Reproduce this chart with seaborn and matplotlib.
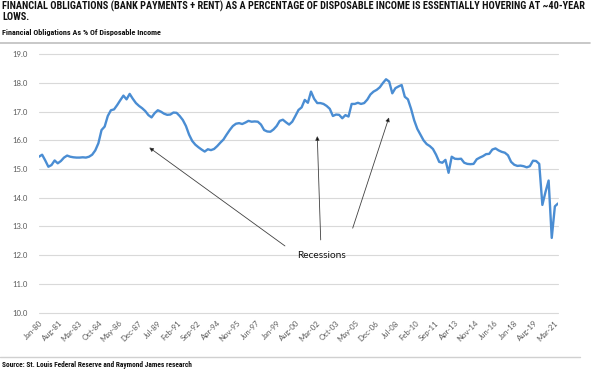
import numpy as np
import pandas as pd
import matplotlib
matplotlib.use("Agg")
import matplotlib.pyplot as plt
from matplotlib import font_manager
from matplotlib.font_manager import FontProperties
import seaborn as sns

# ---------------- data ----------------
title_lines = [
    "FINANCIAL OBLIGATIONS (BANK PAYMENTS + RENT) AS A PERCENTAGE OF DISPOSABLE INCOME IS ESSENTIALLY HOVERING AT ~40-YEAR",
    "LOWS.",
]
subtitle = "Financial Obligations As % Of Disposable Income"
source = "Source: St. Louis Federal Reserve and Raymond James research"
annotation_text = "Recessions"

# quarterly values, 1980Q1 .. 2021Q3
values = [
    15.43, 15.50, 15.30, 15.08, 15.14, 15.30, 15.20, 15.28, 15.40, 15.47,
    15.43, 15.41, 15.40, 15.40, 15.41, 15.40, 15.43, 15.50, 15.65, 15.90,
    16.36, 16.48, 16.85, 17.05, 17.08, 17.23, 17.40, 17.56, 17.43, 17.62,
    17.45, 17.30, 17.20, 17.12, 17.02, 16.88, 16.80, 16.95, 17.05, 17.00,
    16.93, 16.89, 16.90, 16.97, 16.96, 16.85, 16.71, 16.50, 16.20, 15.98,
    15.85, 15.76, 15.68, 15.61, 15.69, 15.66, 15.70, 15.80, 15.92, 16.03,
    16.20, 16.36, 16.50, 16.58, 16.60, 16.57, 16.62, 16.68, 16.65, 16.66,
    16.65, 16.55, 16.36, 16.31, 16.30, 16.38, 16.50, 16.68, 16.72, 16.63,
    16.55, 16.65, 16.85, 17.06, 17.15, 17.41, 17.31, 17.70, 17.45, 17.30,
    17.30, 17.27, 17.20, 17.10, 16.85, 16.90, 16.89, 16.77, 16.88, 16.83,
    17.27, 17.27, 17.31, 17.27, 17.30, 17.42, 17.60, 17.70, 17.76, 17.85,
    18.00, 18.13, 18.05, 17.64, 17.82, 17.88, 17.93, 17.52, 17.43, 17.10,
    16.70, 16.40, 16.20, 16.00, 15.87, 15.80, 15.70, 15.50, 15.25, 15.22,
    15.32, 14.87, 15.43, 15.36, 15.35, 15.36, 15.22, 15.18, 15.17, 15.18,
    15.34, 15.40, 15.45, 15.52, 15.53, 15.68, 15.72, 15.65, 15.60, 15.57,
    15.48, 15.25, 15.15, 15.11, 15.12, 15.10, 15.06, 15.10, 15.29, 15.28,
    15.18, 13.75, 14.20, 14.60, 12.60, 13.70, 13.80,
]

tick_labels = [
    "Jan-80", "Aug-81", "Mar-83", "Oct-84", "May-86", "Dec-87", "Jul-89",
    "Feb-91", "Sep-92", "Apr-94", "Nov-95", "Jun-97", "Jan-99", "Aug-00",
    "Mar-02", "Oct-03", "May-05", "Dec-06", "Jul-08", "Feb-10", "Sep-11",
    "Apr-13", "Nov-14", "Jun-16", "Jan-18", "Aug-19", "Mar-21",
]
tick_step_months = 19
months_per_point = 3
y_ticks = [10.0, 11.0, 12.0, 13.0, 14.0, 15.0, 16.0, 17.0, 18.0, 19.0]

df = pd.DataFrame({
    "month": np.arange(len(values)) * months_per_point,
    "value": values,
})

# ---------------- style ----------------
sns.set_theme(style="white")
plt.rcParams["font.family"] = ["Lato", "DejaVu Sans"]


def weight_num(w):
    if isinstance(w, (int, float)):
        return w
    return {"bold": 700, "heavy": 800, "black": 900, "semibold": 600,
            "demibold": 600}.get(str(w).lower(), 400)


# pick a bold condensed face for the header if one is installed
cands = [f for f in font_manager.fontManager.ttflist
         if str(f.stretch) in ("condensed", "semi-condensed", "extra-condensed")
         and weight_num(f.weight) >= 600 and f.style == "normal"]
pref = ["Liberation Sans Narrow", "Roboto Condensed", "Open Sans Condensed",
        "DejaVu Sans", "Noto Sans"]
cands.sort(key=lambda f: pref.index(f.name) if f.name in pref else 99)
if cands:
    head_fp = FontProperties(fname=cands[0].fname)
else:
    head_fp = FontProperties(family=["Liberation Sans", "DejaVu Sans"], weight="bold")

W, H = 593, 371
fig = plt.figure(figsize=(W / 100, H / 100), dpi=100)

left_px, right_px, top_px, bottom_px = 39, 558, 54.3, 312.5
ax = fig.add_axes([left_px / W, 1 - bottom_px / H,
                   (right_px - left_px) / W, (bottom_px - top_px) / H])

sns.lineplot(data=df, x="month", y="value", ax=ax, color="#4a8dd3",
             linewidth=1.7, legend=False)

ax.set_xlim(0, df["month"].iloc[-1])
ax.set_ylim(y_ticks[0], y_ticks[-1])
ax.set_yticks(y_ticks)
ax.set_yticklabels([f"{v:.1f}" for v in y_ticks], fontsize=5.6, color="#595959")
ax.set_xticks(np.arange(len(tick_labels)) * tick_step_months)
ax.set_xticklabels(tick_labels, rotation=45, ha="right", va="top",
                   rotation_mode="anchor", fontsize=5.6, color="#595959")
ax.tick_params(axis="both", length=0)
ax.tick_params(axis="y", pad=8)
ax.tick_params(axis="x", pad=5)
ax.set_xlabel("")
ax.set_ylabel("")
for s in ax.spines.values():
    s.set_visible(False)
ax.grid(axis="y", color="#d9d9d9", linewidth=0.8)
ax.grid(axis="x", visible=False)
for gl in ax.get_ygridlines():
    gl.set_clip_on(False)
ax.set_axisbelow(True)

# annotations
arrow_tips = [(105.8, 15.75), (267.0, 16.15), (335.8, 16.80)]
arrow_tails = [(236.0, 12.32), (270.3, 12.53), (301.0, 12.94)]
for tip, tail in zip(arrow_tips, arrow_tails):
    ax.annotate("", xy=tip, xytext=tail,
                arrowprops=dict(arrowstyle="-|>", color="#404040", lw=0.6,
                                mutation_scale=6, shrinkA=0, shrinkB=0,
                                fc="black"))
ax.text(271.5, 12.0, annotation_text, ha="center", va="center",
        fontsize=7.3, color="#111111")

# ---------------- header / footer ----------------
renderer = fig.canvas.get_renderer()


def fit(t, width_px):
    w = t.get_window_extent(renderer).width
    t.set_fontsize(t.get_fontsize() * width_px / w)


def hfp(size):
    fp = head_fp.copy()
    fp.set_size(size)
    return fp


t1 = fig.text(2 / W, 1 - 6 / H, title_lines[0], ha="left", va="center",
              fontproperties=hfp(7), color="#111111")
fit(t1, 579)
t2 = fig.text(2 / W, 1 - 17.5 / H, title_lines[1], ha="left", va="center",
              fontproperties=hfp(t1.get_fontsize()), color="#111111")
st = fig.text(2 / W, 1 - 32 / H, subtitle, ha="left", va="center",
              fontproperties=hfp(5), color="#111111")
fit(st, 160)
src = fig.text(2 / W, 1 - 365 / H, source, ha="left", va="center",
               fontproperties=hfp(5), color="#111111")
fit(src, 191)

fig.add_artist(plt.Line2D([0, 590 / W], [1 - 43 / H, 1 - 43 / H],
                          color="#bfbfbf", linewidth=1.2))
fig.add_artist(plt.Line2D([0, 580 / W], [1 - 357 / H, 1 - 357 / H],
                          color="#d0d0d0", linewidth=1.0))

fig.savefig("out.png", dpi=100, facecolor="white")
